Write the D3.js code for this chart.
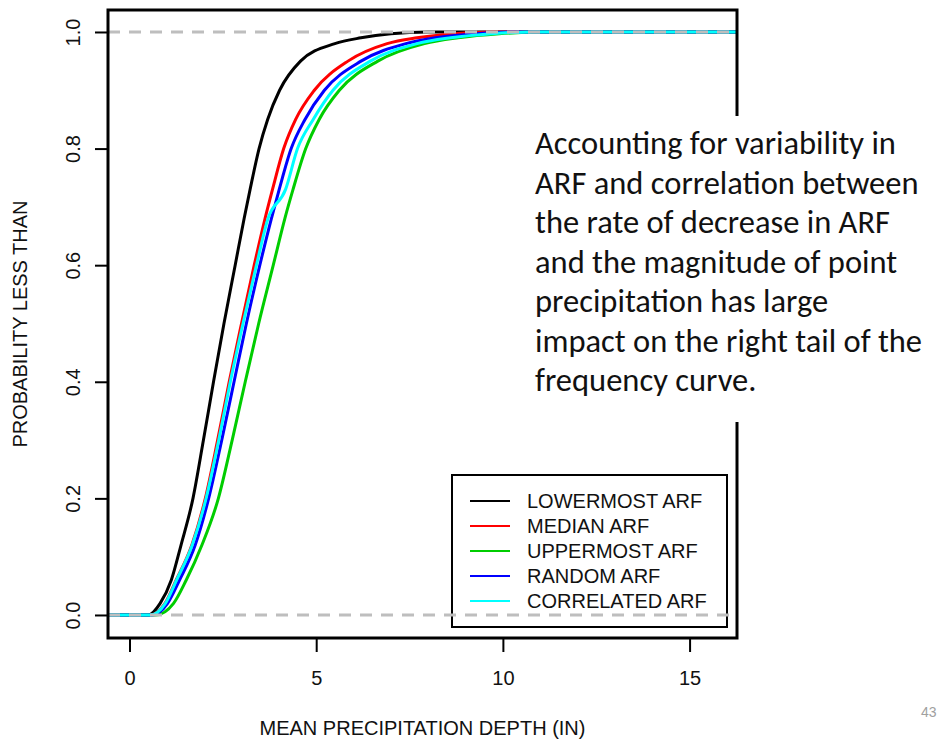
<!DOCTYPE html>
<html>
<head>
<meta charset="utf-8">
<script src="https://cdn.jsdelivr.net/npm/d3@7"></script>
<style>
  html, body { margin: 0; padding: 0; background: #fff; }
  svg { display: block; }
</style>
</head>
<body>
<svg id="chart" width="939" height="740"></svg>
<script>
// Cumulative probability levels; each series gives the depth (in) at which it reaches that level.
const probLevels = [0, 0, 0.02, 0.06, 0.12, 0.2, 0.3, 0.4, 0.5, 0.6, 0.68, 0.73, 0.8, 0.85, 0.9, 0.95, 0.98, 0.99, 0.997, 1, 1];

const lowermostARF  = [-0.6, 0.5, 0.82, 1.12, 1.38, 1.7, 1.98, 2.25, 2.53, 2.83, 3.07, 3.23, 3.47, 3.7, 4.02, 4.58, 5.5, 6.2, 7.0, 8.0, 16.3];
const medianARF     = [-0.6, 0.55, 0.95, 1.25, 1.67, 2.03, 2.36, 2.67, 3.0, 3.34, 3.63, 3.83, 4.13, 4.45, 4.95, 5.85, 6.9, 7.7, 8.7, 9.8, 16.3];
const uppermostARF  = [-0.6, 0.7, 1.18, 1.52, 1.94, 2.38, 2.75, 3.1, 3.46, 3.85, 4.16, 4.38, 4.72, 5.08, 5.62, 6.65, 7.9, 8.8, 9.9, 11.0, 16.3];
const randomARF     = [-0.6, 0.6, 1.02, 1.34, 1.76, 2.12, 2.47, 2.8, 3.13, 3.49, 3.8, 4.01, 4.33, 4.7, 5.22, 6.2, 7.4, 8.2, 9.3, 10.3, 16.3];
const correlatedARF = [-0.6, 0.55, 0.96, 1.26, 1.68, 2.05, 2.39, 2.7, 3.04, 3.4, 3.71, 4.18, 4.5, 4.92, 5.45, 6.45, 7.7, 8.6, 9.7, 10.8, 16.3];

const seriesNames  = ["LOWERMOST ARF", "MEDIAN ARF", "UPPERMOST ARF", "RANDOM ARF", "CORRELATED ARF"];
const seriesValues = [lowermostARF, medianARF, uppermostARF, randomARF, correlatedARF];
const seriesColors = ["#000000", "#ff0000", "#00cd00", "#0000ff", "#00ffff"];

const xTicks = [0, 5, 10, 15];
const yTicks = [0, 0.2, 0.4, 0.6, 0.8, 1.0];
const refLines = [0, 1];

const noteLines = [
  "Accounting for variability in",
  "ARF and correlation between",
  "the rate of decrease in ARF",
  "and the magnitude of point",
  "precipitation has large",
  "impact on the right tail of the",
  "frequency curve."
];

const svg = d3.select("#chart");
const plot = { left: 108, right: 737, top: 10, bottom: 638 };
const axisFont = "'Liberation Sans', Arial, Helvetica, sans-serif";

const x = d3.scaleLinear().domain([-0.576, 16.27]).range([plot.left, plot.right]);
const y = d3.scaleLinear().domain([-0.0395, 1.0377]).range([plot.bottom, plot.top]);

svg.append("defs").append("clipPath").attr("id", "plotClip")
  .append("rect")
  .attr("x", plot.left).attr("y", plot.top)
  .attr("width", plot.right - plot.left).attr("height", plot.bottom - plot.top);

// CDF curves
const line = d3.line()
  .x(d => x(d[0]))
  .y(d => y(d[1]))
  .curve(d3.curveMonotoneX);

const curves = svg.append("g").attr("clip-path", "url(#plotClip)");
seriesValues.forEach((vals, i) => {
  const pts = vals.map((v, k) => [v, probLevels[k]]);
  curves.append("path")
    .attr("d", line(pts))
    .attr("fill", "none")
    .attr("stroke", seriesColors[i])
    .attr("stroke-width", 3)
    .attr("stroke-linejoin", "round");
});

// Legend
const legend = svg.append("g").attr("font-family", axisFont).attr("font-size", 20);
legend.append("rect")
  .attr("x", 452).attr("y", 475).attr("width", 275).attr("height", 152)
  .attr("fill", "none").attr("stroke", "#000").attr("stroke-width", 2);
seriesNames.forEach((name, i) => {
  const ly = 501 + i * 25;
  legend.append("line")
    .attr("x1", 470).attr("x2", 510).attr("y1", ly).attr("y2", ly)
    .attr("stroke", seriesColors[i]).attr("stroke-width", 2);
  legend.append("text")
    .attr("x", 527).attr("y", ly + 7)
    .attr("fill", "#111")
    .text(name);
});

// Reference lines at probability 0 and 1
svg.append("g").selectAll("line").data(refLines).join("line")
  .attr("x1", plot.left).attr("x2", plot.right)
  .attr("y1", d => y(d)).attr("y2", d => y(d))
  .attr("stroke", "#bebebe").attr("stroke-width", 3)
  .attr("stroke-dasharray", "12,9");

// Axes
const xAxis = svg.append("g")
  .attr("transform", `translate(0,${plot.bottom})`)
  .call(d3.axisBottom(x).tickValues(xTicks).tickSize(14).tickPadding(19).tickFormat(d3.format("d")));
const yAxis = svg.append("g")
  .attr("transform", `translate(${plot.left},0)`)
  .call(d3.axisLeft(y).tickValues(yTicks).tickSize(13).tickFormat(d3.format(".1f")));

[xAxis, yAxis].forEach(g => {
  g.select(".domain").remove();
  g.selectAll(".tick line").attr("stroke", "#000").attr("stroke-width", 2);
  g.selectAll(".tick text")
    .attr("font-family", axisFont).attr("font-size", 20).attr("fill", "#111");
});
yAxis.selectAll(".tick text")
  .attr("transform", "rotate(-90)")
  .attr("x", 0).attr("y", -28).attr("dy", 0)
  .attr("text-anchor", "middle");

// Plot frame
svg.append("rect")
  .attr("x", plot.left).attr("y", plot.top)
  .attr("width", plot.right - plot.left).attr("height", plot.bottom - plot.top)
  .attr("fill", "none").attr("stroke", "#000").attr("stroke-width", 3);

// Axis titles
svg.append("text")
  .attr("x", (plot.left + plot.right) / 2).attr("y", 735)
  .attr("text-anchor", "middle")
  .attr("font-family", axisFont).attr("font-size", 20).attr("fill", "#111")
  .text("MEAN PRECIPITATION DEPTH (IN)");
svg.append("text")
  .attr("transform", `translate(27,${(plot.top + plot.bottom) / 2}) rotate(-90)`)
  .attr("text-anchor", "middle")
  .attr("font-family", axisFont).attr("font-size", 20).attr("fill", "#111")
  .text("PROBABILITY LESS THAN");

// Annotation panel
svg.append("rect")
  .attr("x", 528).attr("y", 116).attr("width", 411).attr("height", 306)
  .attr("fill", "#fff");
const note = svg.append("text")
  .attr("font-family", "Carlito, Calibri, Lato, sans-serif")
  .attr("font-size", 32.5)
  .attr("fill", "#111");
noteLines.forEach((t, i) => {
  note.append("tspan").attr("x", 535).attr("y", 154 + i * 39.5).text(t);
});

// Slide number
svg.append("text")
  .attr("x", 921).attr("y", 717)
  .attr("font-family", axisFont).attr("font-size", 14).attr("fill", "#a0a0a0")
  .text("43");
</script>
</body>
</html>
